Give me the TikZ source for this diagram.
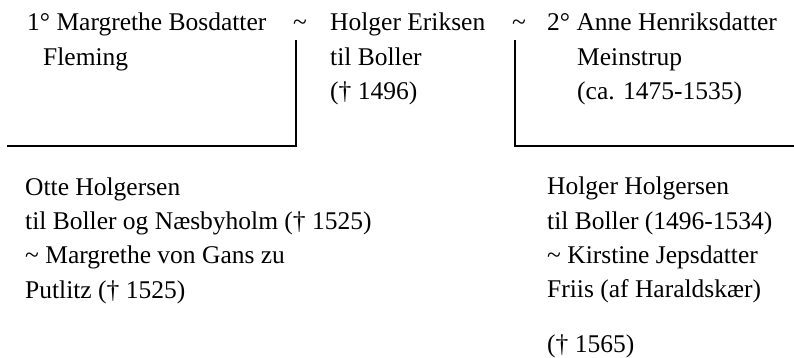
\documentclass[tikz,border=0pt]{standalone}
\usepackage{fontspec}
\setmainfont{Liberation Serif}
\begin{document}
\begin{tikzpicture}[x=1pt,y=-1pt,
  txt/.style={anchor=base west,inner sep=0pt,align=left,
    font=\fontsize{25.5}{34.3}\selectfont},
  rule/.style={line width=2pt}]
\useasboundingbox (0,0) rectangle (794,358);
% generation 1 (anchors are the baselines of the last lines)
\node[txt] (wife1) at (27,65.3) {1° Margrethe Bosdatter\\\hspace*{16pt}Fleming};
\node[txt] (t1) at (293,31) {\textasciitilde};
\node[txt] (holger) at (330,99.6) {Holger Eriksen\\til Boller\\(† 1496)};
\node[txt] (t2) at (512,31) {\textasciitilde};
\node[txt] (wife2) at (547,99.6) {2° Anne Henriksdatter\\\hspace*{30pt}Meinstrup\\\hspace*{30pt}(ca. 1475-1535)};
% generation 2
\node[txt] (otte) at (25,298) {Otte Holgersen\\til Boller og Næsbyholm († 1525)\\\textasciitilde{} Margrethe von Gans zu\\Putlitz († 1525)};
\node[txt] (holger2) at (547,352) {Holger Holgersen\\til Boller (1496-1534)\\\textasciitilde{} Kirstine Jepsdatter\\Friis (af Haraldskær)\\[20pt](† 1565)};
% connectors
\coordinate (c1) at (296,146);
\coordinate (e1) at (7,146);
\coordinate (c2) at (515,146);
\coordinate (e2) at (794,146);
\draw[rule] (t1.south -| c1) ++(0,9) -- (c1) -- (e1);
\draw[rule] (t2.south -| c2) ++(0,9) -- (c2) -- (e2);
\end{tikzpicture}
\end{document}
